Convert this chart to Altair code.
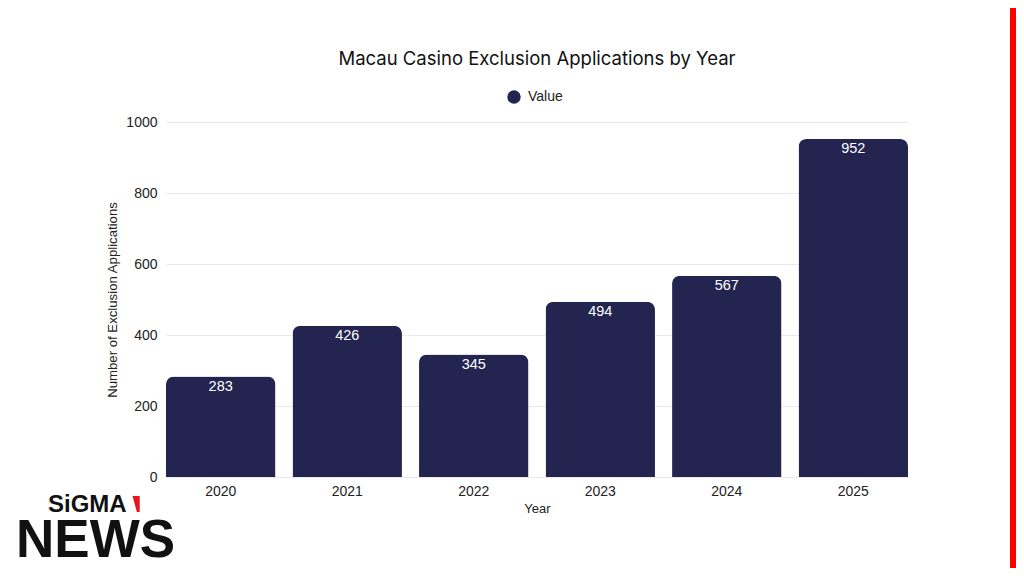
import altair as alt
import pandas as pd

years = ["2020", "2021", "2022", "2023", "2024", "2025"]
values = [283, 426, 345, 494, 567, 952]
series_name = "Value"
title_text = "Macau Casino Exclusion Applications by Year"

df = pd.DataFrame({"Year": years, "Count": values, "Series": [series_name] * len(years)})
one = pd.DataFrame({"k": [0]})

BAR = "#232550"
FONT = "Liberation Sans"

x_enc = alt.X("Year:N", sort=years,
              scale=alt.Scale(paddingInner=0.135, paddingOuter=0.0),
              axis=alt.Axis(title="Year", labelAngle=0, labelFontSize=14, labelColor="#222",
                            titleFontSize=13, titleFontWeight="normal", titleColor="#222",
                            labelPadding=7, titlePadding=4, ticks=False, domain=False,
                            grid=False, labelFont=FONT, titleFont=FONT))
y_enc = alt.Y("Count:Q", scale=alt.Scale(domain=[0, 1000]),
              axis=alt.Axis(title="Number of Exclusion Applications", values=[0, 200, 400, 600, 800, 1000],
                            format="d", labelFontSize=14, labelColor="#222", titleFontSize=13.2,
                            titleFontWeight="normal", titleColor="#222", labelPadding=9,
                            titlePadding=6, ticks=False, domain=False, gridColor="#e9e9e9",
                            labelFont=FONT, titleFont=FONT))

bars = alt.Chart(df).mark_bar(cornerRadiusTopLeft=8, cornerRadiusTopRight=8).encode(
    x=x_enc, y=y_enc,
    color=alt.Color("Series:N", scale=alt.Scale(range=[BAR]),
                    legend=alt.Legend(title=None, orient="none", legendX=341, legendY=-32,
                                      symbolType="circle", symbolSize=180, symbolStrokeWidth=0,
                                      labelFontSize=14, labelColor="#222", labelFont=FONT,
                                      labelOffset=7, symbolOpacity=1))
)

labels = alt.Chart(df).mark_text(color="white", fontSize=14.5, baseline="middle", dy=10, font=FONT).encode(
    x=alt.X("Year:N", sort=years), y="Count:Q", text="Count:Q"
)

title = alt.Chart(one).mark_text(text=title_text, font="Inter", fontSize=18.5, color="#111",
                                 align="center", baseline="alphabetic").encode(
    x=alt.value(371), y=alt.value(-57)
)

stripe = alt.Chart(one).mark_rect(color="#ff0000").encode(
    x=alt.value(844), x2=alt.value(852), y=alt.value(-114), y2=alt.value(446)
)

sigma = alt.Chart(one).mark_text(text="SiGMA", font=FONT, fontWeight="bold", fontSize=24,
                                 align="left", baseline="alphabetic", color="#111").encode(
    x=alt.value(-118), y=alt.value(390)
)
flag = alt.Chart(one).mark_point(shape="M-0.5,-1 L0.4,-1 L0.4,1 L0.05,1 Z", filled=True, color="#e8141c",
                                 opacity=1, size=256, strokeWidth=0).encode(
    x=alt.value(-29.5), y=alt.value(382)
)
news = alt.Chart(one).mark_text(text="NEWS", font=FONT, fontWeight="bold", fontSize=53,
                                align="left", baseline="bottom", color="#111").encode(
    x=alt.value(-150), y=alt.value(446)
)

chart = alt.layer(bars, labels, title, stripe, sigma, flag, news).properties(
    width=742, height=355,
    autosize=alt.AutoSizeParams(type="none"),
    padding={"left": 158, "top": 114, "right": 108, "bottom": 91},
    background="white",
).configure_view(stroke=None, strokeWidth=0)

chart.save("out.html", embed_options={"renderer": "svg", "actions": False})
